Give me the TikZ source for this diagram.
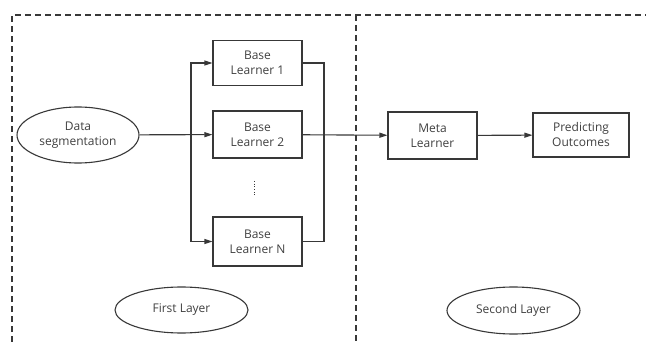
\documentclass[tikz,border=0pt]{standalone}
\usepackage{fontspec}
\setmainfont{Open Sans}
\usetikzlibrary{arrows.meta,shapes.geometric}
\definecolor{linegray}{HTML}{383838}
\definecolor{textgray}{HTML}{404040}
\begin{document}
\begin{tikzpicture}[x=1pt, y=-1pt,
    every node/.style={text=textgray, font=\fontsize{12}{15}\selectfont, align=center},
    box/.style={draw=linegray, line width=1.1pt, rectangle, minimum width=89pt, minimum height=45pt, inner sep=0pt},
    oval/.style={draw=linegray, line width=1.1pt, ellipse, inner sep=0pt},
    flow/.style={draw=linegray, line width=1.1pt, -{Triangle[length=8pt,width=5pt]}},
    wire/.style={draw=linegray, line width=1.1pt},
    frame/.style={draw=linegray, line width=1.1pt, dash pattern=on 6pt off 4pt}]
  \useasboundingbox (0,0) rectangle (646,342);
  % layer frames
  \draw[frame] (12,342) -- (12,15) -- (646,15);
  \draw[frame] (356,15) -- (356,342);
  % first layer
  \node[oval, minimum width=122pt, minimum height=56pt] (data) at (78,135) {Data\\segmentation};
  \node[box] (bl1) at (257.5,63) {Base\\Learner 1};
  \node[box, minimum height=47pt] (bl2) at (257.5,134.5) {Base\\Learner 2};
  \node[box, minimum height=49pt] (blN) at (257.5,241.5) {Base\\Learner N};
  \draw[linegray, line width=0.7pt, dotted] (254,181) -- (254,196);
  \coordinate (split) at (191,135);
  \coordinate (join) at (324,135);
  \draw[flow] (data) -- (bl2);
  \draw[flow] (split) |- (bl1);
  \draw[flow] (split) |- (blN);
  \draw[wire] (bl1) -| (join);
  \draw[wire] (blN) -| (join);
  \node[oval, minimum width=133pt, minimum height=46pt] (first) at (181.5,310) {First Layer};
  % second layer
  \node[box, minimum height=47pt] (meta) at (432.5,135.5) {Meta\\Learner};
  \node[box, minimum width=96pt, minimum height=44pt] (pred) at (581,135) {Predicting\\Outcomes};
  \draw[flow] (bl2) -- (meta);
  \draw[flow] (meta) -- (pred);
  \node[oval, minimum width=133pt, minimum height=47pt] (second) at (513.5,310.5) {Second Layer};
\end{tikzpicture}
\end{document}
